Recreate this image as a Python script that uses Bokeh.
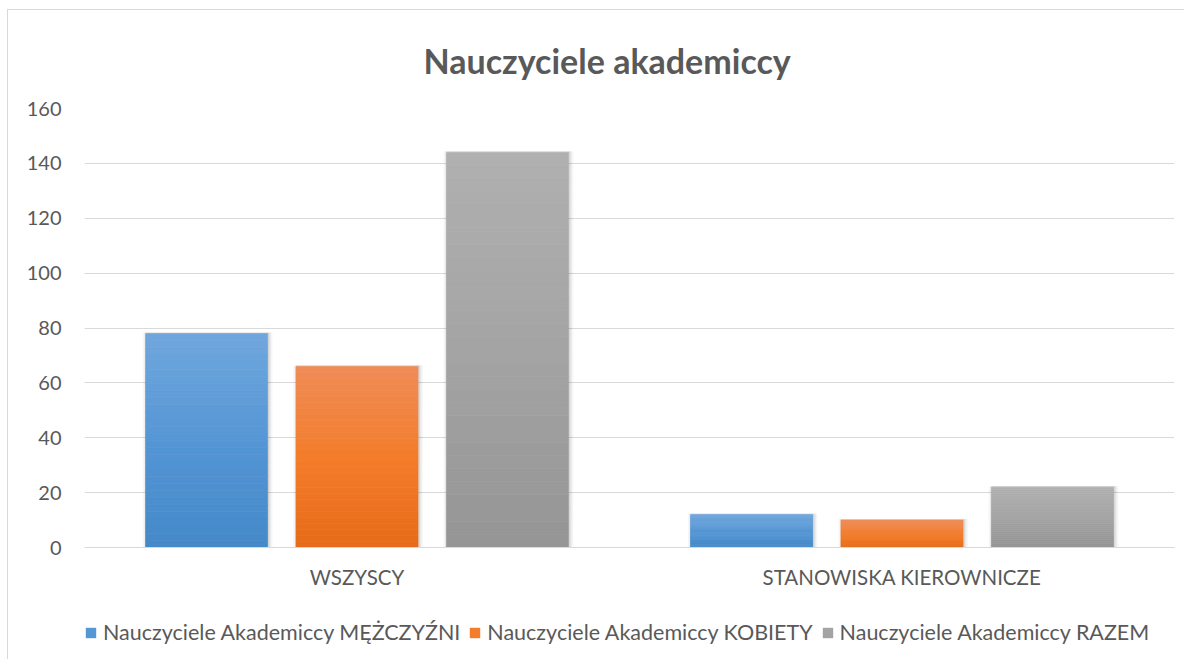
from bokeh.plotting import figure
from bokeh.layouts import column
from bokeh.models import (ColumnDataSource, Legend, LegendItem, FactorRange,
                          Range1d, FixedTicker)
from bokeh.transform import dodge
from bokeh.embed import file_html
from bokeh.resources import INLINE

# ---- data ----
categories = ["WSZYSCY", "STANOWISKA KIEROWNICZE"]
series_names = ["Nauczyciele Akademiccy MĘŻCZYŹNI",
                "Nauczyciele Akademiccy KOBIETY",
                "Nauczyciele Akademiccy RAZEM"]
men = [78, 12]
women = [66, 10]
total = [144, 22]
y_ticks = [0, 20, 40, 60, 80, 100, 120, 140, 160]
title_text = "Nauczyciele akademiccy"

# ---- style ----
FONT = "Lato"
TXT = "#595959"
GRID = "#d9d9d9"
offsets = [-0.276, 0.0, 0.276]
bar_w = 0.224
gradients = [("#70a7dd", "#5596d5", "#4489c8"),
             ("#f08b56", "#f47d2b", "#e66b18"),
             ("#b0b0b0", "#a4a4a4", "#959595")]
N_SLICES = 30


def hex2rgb(h):
    h = h.lstrip("#")
    return [int(h[i:i + 2], 16) for i in (0, 2, 4)]


def lerp(c1, c2, t):
    a, b = hex2rgb(c1), hex2rgb(c2)
    return "#%02x%02x%02x" % tuple(int(round(a[k] + (b[k] - a[k]) * t)) for k in range(3))


def grad_color(stops, t):  # t=0 top, t=1 bottom
    top, mid, bot = stops
    if t < 0.5:
        return lerp(top, mid, t / 0.5)
    return lerp(mid, bot, (t - 0.5) / 0.5)


p = figure(x_range=FactorRange(*categories, range_padding=0),
           y_range=Range1d(0, 160),
           width=1176, height=587,
           output_backend="svg", toolbar_location=None,
           min_border_left=76, min_border_right=10,
           min_border_top=98, min_border_bottom=50)

p.title.text = title_text
p.title.align = "left"
p.title.offset = 339
p.title.text_font = FONT
p.title.text_font_size = "34px"
p.title.text_font_style = "bold"
p.title.text_color = TXT
p.title.standoff = 55

p.outline_line_color = None
p.background_fill_color = "white"
p.border_fill_color = "white"

p.xgrid.grid_line_color = None
p.ygrid.grid_line_color = GRID
p.ygrid.grid_line_width = 1.2

p.yaxis.ticker = FixedTicker(ticks=y_ticks)
p.yaxis.axis_line_color = None
p.yaxis.major_tick_line_color = None
p.yaxis.minor_tick_line_color = None
p.yaxis.major_tick_out = 0
p.yaxis.major_tick_in = 0
p.yaxis.major_label_standoff = 23
p.yaxis.major_label_text_font = FONT
p.yaxis.major_label_text_font_size = "20px"
p.yaxis.major_label_text_color = TXT

p.xaxis.axis_line_color = GRID
p.xaxis.axis_line_width = 1.2
p.xaxis.major_tick_line_color = None
p.xaxis.minor_tick_line_color = None
p.xaxis.major_tick_out = 0
p.xaxis.major_tick_in = 0
p.xaxis.major_label_standoff = 17
p.xaxis.major_label_text_font = FONT
p.xaxis.major_label_text_font_size = "20.5px"
p.xaxis.major_label_text_color = TXT

# legend lives in its own strip below the chart
lg = figure(x_range=FactorRange(*categories), y_range=Range1d(500, 501),
            width=1176, height=62, output_backend="svg", toolbar_location=None,
            x_axis_location=None, y_axis_location=None,
            min_border_left=76, min_border_right=10,
            min_border_top=0, min_border_bottom=0)
lg.outline_line_color = None
lg.xgrid.grid_line_color = None
lg.ygrid.grid_line_color = None
lg.background_fill_color = "white"
lg.border_fill_color = "white"

legend_items = []
for vals, name, off, stops in zip([men, women, total], series_names, offsets, gradients):
    # soft shadow
    for extra, alpha in [(0.014, 0.035), (0.008, 0.05), (0.003, 0.07)]:
        src = ColumnDataSource(dict(x=categories, top=[v + 0.4 for v in vals],
                                    bottom=[0 for v in vals]))
        p.vbar(x=dodge("x", off + 0.002, range=p.x_range), top="top", bottom="bottom",
               width=bar_w + extra, source=src, fill_color="black",
               fill_alpha=alpha, line_color=None)
    for i in range(N_SLICES):
        f0, f1 = i / N_SLICES, (i + 1) / N_SLICES
        t = 1 - (f0 + f1) / 2
        col = grad_color(stops, t)
        src = ColumnDataSource(dict(x=categories,
                                    bottom=[v * f0 for v in vals],
                                    top=[v * f1 for v in vals]))
        p.vbar(x=dodge("x", off, range=p.x_range), top="top", bottom="bottom",
               width=bar_w, source=src, fill_color=col, line_color=col,
               line_width=0.6)
    # legend proxy renderer (same data, outside the strip's view)
    lsrc = ColumnDataSource(dict(x=categories, top=vals))
    mid_col = grad_color(stops, 0.5)
    lr = lg.vbar(x=dodge("x", off, range=lg.x_range), top="top", bottom=0,
                 width=bar_w, source=lsrc, fill_color=mid_col, line_color=None)
    legend_items.append(LegendItem(label=name, renderers=[lr]))

legend = Legend(items=legend_items, orientation="horizontal",
                location=(0, 14),
                glyph_width=13, glyph_height=13, label_standoff=6, spacing=8,
                border_line_color=None, background_fill_alpha=0,
                label_text_font=FONT, label_text_font_size="21.5px",
                label_text_color=TXT, padding=0, margin=0)
lg.add_layout(legend, "center")

layout = column(p, lg, spacing=0,
                styles={"border-left": "1px solid #d9d9d9",
                        "border-top": "1px solid #d9d9d9",
                        "margin-left": "7px", "margin-top": "9px"})
open("out.html", "w").write(file_html(layout, INLINE))
